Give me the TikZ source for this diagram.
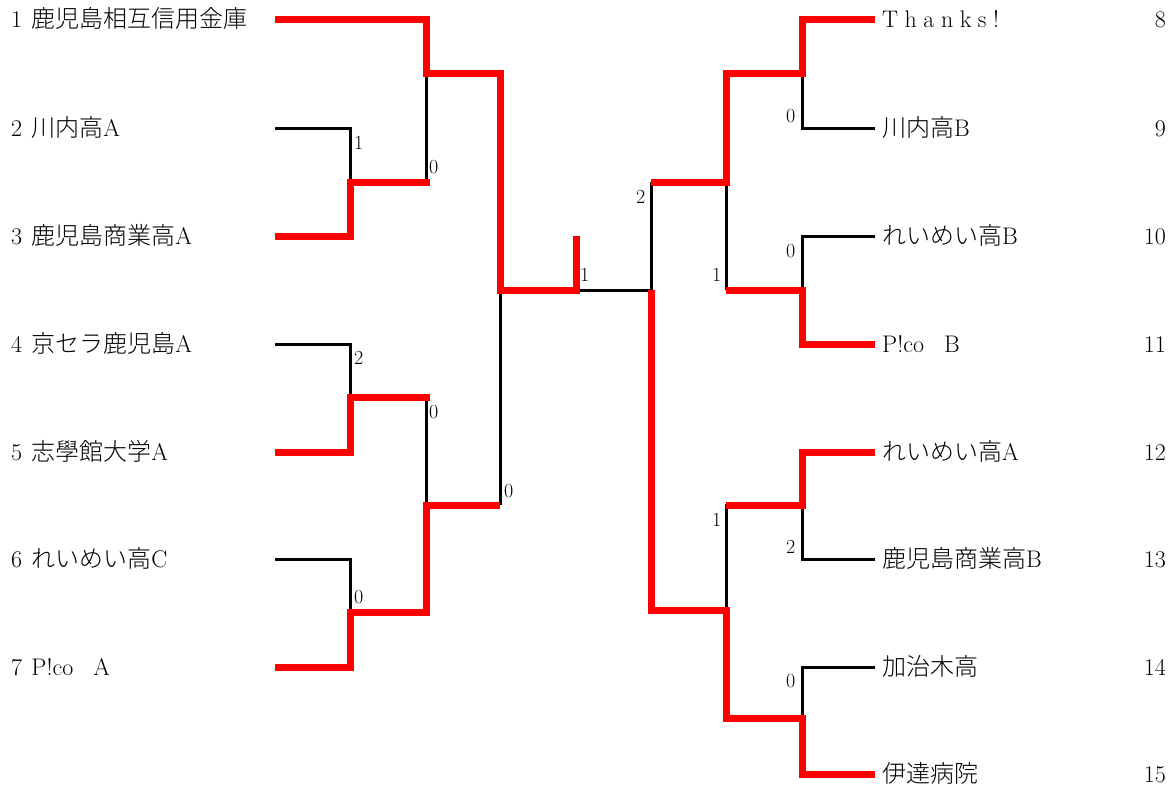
\documentclass[tikz,border=0pt]{standalone}
\usepackage{fontspec}
\IfFontExistsTF{Noto Sans CJK JP Light}
  {\newfontfamily\cjkfont{Noto Sans CJK JP Light}}
  {\newfontfamily\cjkfont{Noto Sans CJK JP}}
\newcommand\jpn[1]{{\cjkfont #1}}
\begin{document}
\begin{tikzpicture}[x=1pt,y=-1pt,
  win/.style={draw=red,line width=7pt,line join=miter,line cap=butt},
  lose/.style={draw=black,line width=3pt,line join=miter,line cap=butt},
  team/.style={anchor=base west,inner sep=0pt,font=\fontsize{24}{28}\selectfont},
  seed/.style={anchor=base east,inner sep=0pt,font=\fontsize{24}{28}\selectfont},
  score/.style={anchor=base west,inner sep=0pt,font=\fontsize{20}{24}\selectfont}]
\useasboundingbox (0,0) rectangle (1174,789);
% team line ends (left)
\coordinate (L1) at (275,20);  \coordinate (L2) at (275,128);
\coordinate (L3) at (275,236); \coordinate (L4) at (275,344);
\coordinate (L5) at (275,452); \coordinate (L6) at (275,559);
\coordinate (L7) at (275,667);
% team line ends (right)
\coordinate (R8) at (875,20);   \coordinate (R9) at (875,128);
\coordinate (R10) at (875,236); \coordinate (R11) at (875,344);
\coordinate (R12) at (875,452); \coordinate (R13) at (875,559);
\coordinate (R14) at (875,667); \coordinate (R15) at (875,774);
% junctions
\coordinate (a23) at (350,182); \coordinate (a45) at (350,397); \coordinate (a67) at (350,612);
\coordinate (b1) at (426,74);   \coordinate (b2) at (426,505);
\coordinate (c1) at (500,290);
\coordinate (fl) at (576,290);  \coordinate (fr) at (651,290);
\coordinate (d89) at (802,74);  \coordinate (d1011) at (802,290);
\coordinate (d1213) at (802,505); \coordinate (d1415) at (802,718);
\coordinate (e1) at (726,182);  \coordinate (e2) at (726,610);

% ---- losers (black) ----
\draw[lose] (L2) -- (350,128) -- (a23);
\draw[lose] (b1) -- (426,182);
\draw[lose] (L4) -- (350,344) -- (a45);
\draw[lose] (426,397) -- (b2);
\draw[lose] (L6) -- (350,559) -- (a67);
\draw[lose] (c1) -- (500,505);
\draw[lose] (fl) -- (fr);
\draw[lose] (fr) -- (651,182);
\draw[lose] (d89) -- (802,128) -- (R9);
\draw[lose] (e1) -- (726,290);
\draw[lose] (R10) -- (802,236) -- (d1011);
\draw[lose] (d1213) -- (726,505) -- (e2);
\draw[lose] (d1213) -- (802,559) -- (R13);
\draw[lose] (R14) -- (802,667) -- (d1415);

% ---- winners (red) ----
\draw[win] (L1) -- (426,20) -- (b1) -- (500,74) -- (c1) -- (fl) -- (576,236);
\draw[win] (L3) -- (350,236) -- (a23) -- (429.5,182);
\draw[win] (L5) -- (350,452) -- (a45) -- (429.5,397);
\draw[win] (L7) -- (350,667) -- (a67) -- (426,612) -- (b2) -- (500,505);
\draw[win] (651,182) -- (e1) -- (726,74) -- (d89) -- (802,20) -- (R8);
\draw[win] (726,290) -- (d1011) -- (802,344) -- (R11);
\draw[win] (fr) -- (651,610) -- (e2) -- (726,718) -- (d1415) -- (802,774) -- (R15);
\draw[win] (726,505) -- (d1213) -- (802,452) -- (R12);

% ---- team names (left) ----
\node[team] (n1) at (11,28) {1 \hspace{2pt}\jpn{鹿児島相互信用金庫}};
\node[team] (n2) at (11,136) {2 \hspace{2pt}\jpn{川内高}A};
\node[team] (n3) at (11,244) {3 \hspace{2pt}\jpn{鹿児島商業高}A};
\node[team] (n4) at (11,352) {4 \hspace{2pt}\jpn{京セラ鹿児島}A};
\node[team] (n5) at (11,460) {5 \hspace{2pt}\jpn{志學館大学}A};
\node[team] (n6) at (11,567) {6 \hspace{2pt}\jpn{れいめい高}C};
\node[team] (n7) at (11,675) {7 \hspace{2pt}P!co\hspace{20pt}A};
% ---- team names (right) ----
\node[team] (n8) at (882,28) {T\hspace{6.5pt}h\hspace{6.5pt}a\hspace{6.5pt}n\hspace{6.5pt}k\hspace{6.5pt}s\hspace{6.5pt}!};
\node[team] (n9) at (882,136) {\jpn{川内高}B};
\node[team] (n10) at (882,244) {\jpn{れいめい高}B};
\node[team] (n11) at (882,352) {P!co\hspace{20pt}B};
\node[team] (n12) at (882,460) {\jpn{れいめい高}A};
\node[team] (n13) at (882,567) {\jpn{鹿児島商業高}B};
\node[team] (n14) at (882,675) {\jpn{加治木高}};
\node[team] (n15) at (882,782) {\jpn{伊達病院}};
% ---- seeds (right) ----
\node[seed] (s8) at (1166,28) {8};
\node[seed] (s9) at (1166,136) {9};
\node[seed] (s10) at (1166,244) {10};
\node[seed] (s11) at (1166,352) {11};
\node[seed] (s12) at (1166,460) {12};
\node[seed] (s13) at (1166,567) {13};
\node[seed] (s14) at (1166,675) {14};
\node[seed] (s15) at (1166,782) {15};

% ---- scores ----
\node[score] (p1) at (354,149) {1};
\node[score] (p2) at (429,173) {0};
\node[score] (p3) at (354,364) {2};
\node[score] (p4) at (429,418) {0};
\node[score] (p5) at (354,603) {0};
\node[score] (p6) at (504,497) {0};
\node[score] (p7) at (580,281) {1};
\node[score] (p8) at (636,203) {2};
\node[score] (p9) at (712,281) {1};
\node[score] (p10) at (786,123) {0};
\node[score] (p11) at (786,257) {0};
\node[score] (p12) at (712,526) {1};
\node[score] (p13) at (786,553) {2};
\node[score] (p14) at (786,687) {0};
\end{tikzpicture}
\end{document}
